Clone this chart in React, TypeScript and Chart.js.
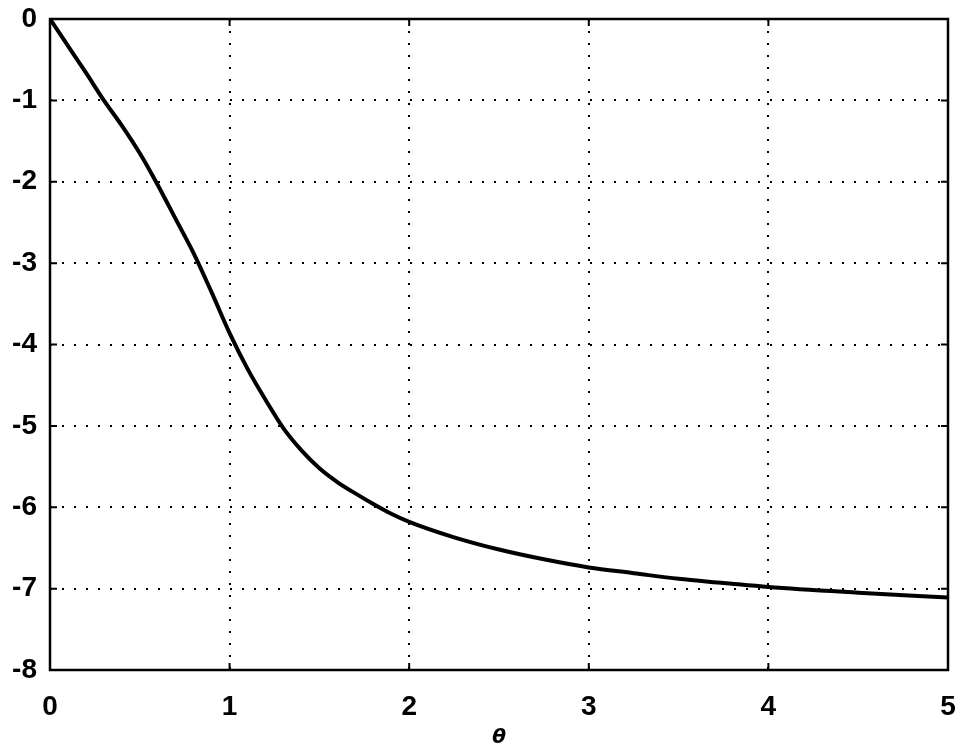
import React, { useEffect, useRef } from "react";
import { Chart, registerables } from "chart.js";

Chart.register(...registerables);

const thetaValues = [0, 0.1, 0.2, 0.3, 0.4, 0.5, 0.6, 0.7, 0.8, 0.9, 1.0, 1.1, 1.2, 1.3, 1.4, 1.5, 1.6, 1.7, 1.8, 1.9, 2.0, 2.25, 2.5, 2.75, 3, 3.25, 3.5, 3.75, 4, 4.5, 5];
const curveValues = [0, -0.33, -0.66, -1.0, -1.31, -1.65, -2.04, -2.46, -2.88, -3.36, -3.86, -4.3, -4.68, -5.03, -5.3, -5.52, -5.69, -5.83, -5.96, -6.08, -6.18, -6.37, -6.52, -6.64, -6.74, -6.81, -6.88, -6.93, -6.98, -7.05, -7.11];
const xTickLabels = ["0", "1", "2", "3", "4", "5"];
const yTickLabels = ["-8", "-7", "-6", "-5", "-4", "-3", "-2", "-1", "0"];
const xTitle = "θ";

const framePlugin = {
  id: "frame",
  afterDraw(chart: any) {
    const { ctx, chartArea } = chart;
    const { left, right, top, bottom } = chartArea;
    ctx.save();
    ctx.strokeStyle = "#000";
    ctx.lineWidth = 2;
    const xs = chart.scales.x;
    const ys = chart.scales.y;
    ctx.beginPath();
    for (let i = 0; i < xTickLabels.length; i++) {
      const px = xs.getPixelForValue(Number(xTickLabels[i]));
      ctx.moveTo(px, bottom);
      ctx.lineTo(px, bottom - 7);
      ctx.moveTo(px, top);
      ctx.lineTo(px, top + 7);
    }
    for (let i = 0; i < yTickLabels.length; i++) {
      const py = ys.getPixelForValue(Number(yTickLabels[i]));
      ctx.moveTo(left, py);
      ctx.lineTo(left + 7, py);
      ctx.moveTo(right, py);
      ctx.lineTo(right - 7, py);
    }
    ctx.stroke();
    ctx.lineWidth = 2.5;
    ctx.strokeRect(left, top, right - left, bottom - top);
    ctx.restore();
  },
};

export default function App() {
  const canvasRef = useRef<HTMLCanvasElement | null>(null);

  useEffect(() => {
    if (!canvasRef.current) return;
    const points = thetaValues.map((x, i) => ({ x, y: curveValues[i] }));
    const chart = new Chart(canvasRef.current, {
      type: "scatter",
      data: {
        datasets: [
          {
            data: points,
            showLine: true,
            borderColor: "#000",
            borderWidth: 4,
            pointRadius: 0,
            cubicInterpolationMode: "monotone",
            fill: false,
          },
        ],
      },
      options: {
        animation: false,
        responsive: false,
        maintainAspectRatio: false,
        layout: { padding: { left: 0, right: 15, top: 19, bottom: 0 } },
        plugins: { legend: { display: false }, tooltip: { enabled: false } },
        scales: {
          x: {
            type: "linear",
            min: 0,
            max: 5,
            afterFit(scale: any) {
              scale.height = 83;
            },
            afterBuildTicks(scale: any) {
              scale.ticks = xTickLabels.map((v) => ({ value: Number(v) }));
            },
            ticks: {
              color: "#000",
              font: { family: "Liberation Sans", size: 28, weight: "bold" },
              padding: 0,
              maxRotation: 0,
              callback: (v: any) => String(v),
            },
            grid: {
              color: "#000",
              lineWidth: 2,
              drawTicks: true,
              tickLength: 20,
              tickColor: "rgba(0,0,0,0)",
            },
            border: { display: false, dash: [2, 10] },
            title: {
              display: true,
              text: xTitle,
              color: "#000",
              font: { family: "DejaVu Sans", size: 20, weight: "bold", style: "italic" },
              padding: { top: 0, bottom: 3 },
            },
          },
          y: {
            type: "linear",
            min: -8,
            max: 0,
            afterFit(scale: any) {
              scale.width = 50;
            },
            afterBuildTicks(scale: any) {
              scale.ticks = yTickLabels.map((v) => ({ value: Number(v) }));
            },
            ticks: {
              color: "#000",
              font: { family: "Liberation Sans", size: 28, weight: "bold" },
              padding: 0,
              callback: (v: any) => String(v),
            },
            grid: {
              color: "#000",
              lineWidth: 2,
              drawTicks: true,
              tickLength: 13,
              tickColor: "rgba(0,0,0,0)",
            },
            border: { display: false, dash: [2, 10] },
          },
        },
      },
      plugins: [framePlugin],
    } as any);
    return () => chart.destroy();
  }, []);

  return (
    <div style={{ position: "absolute", left: 0, top: 0, width: 963, height: 753, background: "#fff" }}>
      <canvas ref={canvasRef} width={963} height={753} style={{ width: 963, height: 753, display: "block" }} />
    </div>
  );
}
